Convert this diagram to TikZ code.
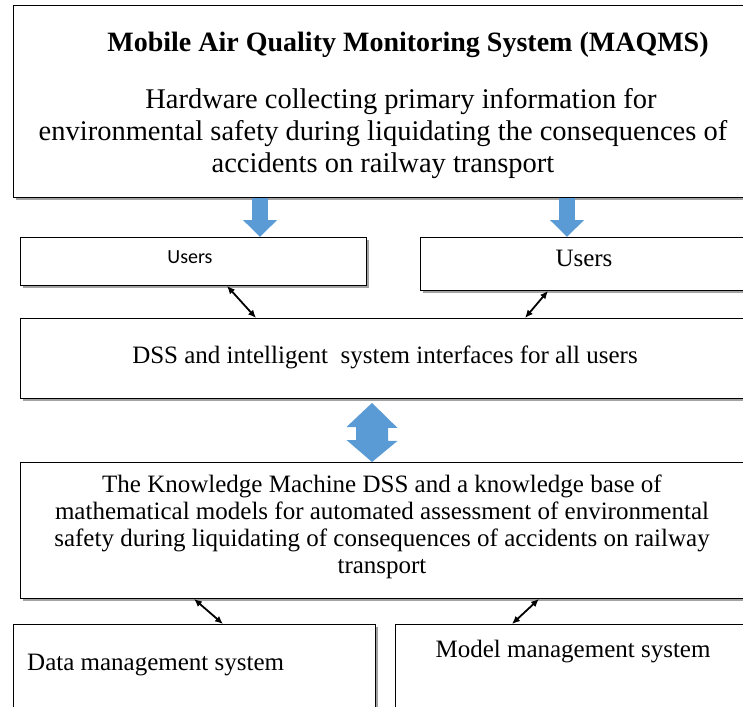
\documentclass[tikz,border=0pt]{standalone}
\usepackage{fontspec}
\setmainfont{Liberation Serif}
\newfontfamily\calfont{Carlito}
\usetikzlibrary{arrows.meta, shadows, positioning}
\definecolor{arrowblue}{RGB}{91,155,213}

\tikzset{
  box/.style={draw, line width=0.9pt, fill=white, anchor=north west, inner sep=0pt,
    drop shadow={shadow xshift=3pt, shadow yshift=-3pt, fill=black!60, opacity=0.6}},
  txt/.style={inner sep=0pt, align=center},
  blockarrow/.style={arrowblue, line width=16pt, -{Triangle[width=33pt, length=17pt]}},
  link/.style={line width=1.8pt, {Latex[length=8pt, width=7pt]}-{Latex[length=8pt, width=7pt]}},
}

\begin{document}
\begin{tikzpicture}[x=1pt,y=-1pt]
\useasboundingbox (0,0) rectangle (743,706);
\clip (0,0) rectangle (743,706);

% Boxes
\node[box, minimum width=800pt, minimum height=192pt] (hw) at (13,5) {};
\node[box, minimum width=346pt, minimum height=48pt] (usrL) at (20,237) {};
\node[box, minimum width=400pt, minimum height=53pt] (usrR) at (420,237) {};
\node[box, minimum width=800pt, minimum height=80pt] (dss) at (20,318) {};
\node[box, minimum width=800pt, minimum height=136pt] (kn) at (20,462) {};
\node[box, minimum width=362pt, minimum height=120pt] (data) at (13,624) {};
\node[box, minimum width=400pt, minimum height=120pt] (model) at (395,624) {};

% Text Node
\node[txt, font=\fontsize{28}{32}\selectfont\bfseries] (ttl) at (408,45) {Mobile Air Quality Monitoring System (MAQMS)};
% Text Node
\node[txt, font=\fontsize{28.5}{32}\selectfont] (hwtxt) at (383,134) {\hspace*{36pt}Hardware collecting primary information for\\
environmental safety during liquidating the consequences of\\
accidents on railway transport};
% Text Node
\node[txt, font=\calfont\fontsize{20}{24}\selectfont] (usrLtxt) at (190,257) {Users};
% Text Node
\node[txt, font=\fontsize{25}{30}\selectfont] (usrRtxt) at (584,258) {Users};
% Text Node
\node[txt, font=\fontsize{25}{30}\selectfont] (dsstxt) at (385,357) {DSS and intelligent\ \ system interfaces for all users};
% Text Node
\node[txt, font=\fontsize{25}{27}\selectfont] (kntxt) at (382,527) {The Knowledge Machine DSS and a knowledge base of\\
mathematical models for automated assessment of environmental\\
safety during liquidating of consequences of accidents on railway\\
transport};
% Text Node
\node[txt, anchor=west, font=\fontsize{25}{30}\selectfont] (datatxt) at (27,665) {Data management system};
% Text Node
\node[txt, font=\fontsize{25}{30}\selectfont] (modeltxt) at (573,652) {Model management system};

% Block arrows
\draw[blockarrow] ([xshift=240pt]usrL.north west |- hw.south) -- ([xshift=240pt]usrL.north west);
\draw[blockarrow] ([xshift=147pt]usrR.north west |- hw.south) -- ([xshift=147pt]usrR.north west);
\fill[arrowblue] ([xshift=352pt, yshift=-4pt]dss.south west) -- ++(25.5,25) -- ++(-9.5,0) -- ++(0,13)
  -- ++(9.5,0) -- ([xshift=352pt]kn.north west) -- ++(-25.5,-22) -- ++(9.5,0) -- ++(0,-13) -- ++(-9.5,0) -- cycle;

% Links
\draw[link] ([xshift=207pt]usrL.south west) -- ([xshift=236pt]dss.north west);
\draw[link] ([xshift=128pt]usrR.south west) -- ([xshift=505pt]dss.north west);
\draw[link] ([xshift=174pt]kn.south west) -- ([xshift=210pt]data.north west);
\draw[link] ([xshift=519pt]kn.south west) -- ([xshift=117pt]model.north west);

\end{tikzpicture}
\end{document}
